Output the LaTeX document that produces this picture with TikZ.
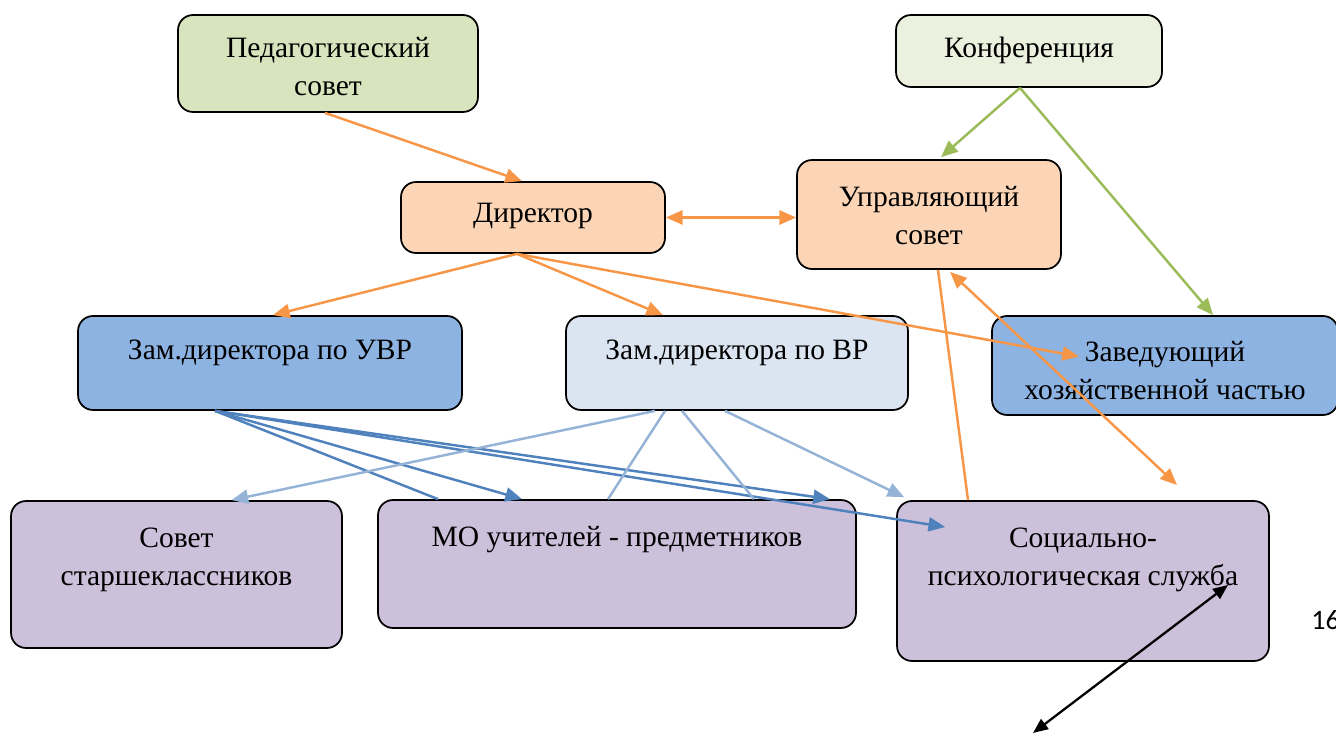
\documentclass[tikz,border=0pt]{standalone}
\usepackage{fontspec}
\setmainfont{Liberation Serif}
\newfontfamily\calib{Carlito}
\usetikzlibrary{arrows.meta,calc}
\definecolor{cOr}{HTML}{F79646}
\definecolor{cGr}{HTML}{9BBB59}
\definecolor{cBl}{HTML}{4F81BD}
\definecolor{cLb}{HTML}{95B3D7}
\definecolor{fPed}{HTML}{D7E4BD}
\definecolor{fKonf}{HTML}{EBF1DE}
\definecolor{fPeach}{HTML}{FBD5B5}
\definecolor{fBlue}{HTML}{8DB3E2}
\definecolor{fLblue}{HTML}{DBE5F1}
\definecolor{fPurp}{HTML}{CCC0DA}
\begin{document}
\begin{tikzpicture}[x=0.02cm,y=-0.02cm,
  box/.style={draw=black, line width=1pt, rounded corners=0.3cm, inner sep=0pt},
  lbl/.style={font=\fontsize{16.8}{22}\selectfont, align=center, inner sep=0pt},
  tip/.style={-{Triangle[length=9.5pt,width=8pt]}},
  dtip/.style={{Triangle[length=9.5pt,width=8pt]}-{Triangle[length=9.5pt,width=8pt]}},
  con/.style={line width=1.4pt}
]
\useasboundingbox (0,0) rectangle (1336,733);

% boxes
\node[box, fill=fPed, minimum width=6cm, minimum height=1.94cm] (ped) at (328,63.5) {};
\node[box, fill=fKonf, minimum width=5.32cm, minimum height=1.44cm] (konf) at (1029,51) {};
\node[box, fill=fPeach, minimum width=5.28cm, minimum height=1.42cm] (dir) at (533,217.5) {};
\node[box, fill=fPeach, minimum width=5.28cm, minimum height=2.18cm] (upr) at (929,214.5) {};
\node[box, fill=fBlue, minimum width=7.68cm, minimum height=1.88cm] (zuvr) at (270,363) {};
\node[box, fill=fLblue, minimum width=6.84cm, minimum height=1.88cm] (zvr) at (737,363) {};
\node[box, fill=fBlue, minimum width=6.92cm, minimum height=1.98cm] (zav) at (1165,365.5) {};
\node[box, fill=fPurp, minimum width=6.62cm, minimum height=2.94cm] (sov) at (176.5,574.5) {};
\node[box, fill=fPurp, minimum width=9.56cm, minimum height=2.56cm] (mo) at (617,564) {};
\node[box, fill=fPurp, minimum width=7.44cm, minimum height=3.2cm] (soc) at (1083,581) {};

% texts
\node[lbl] (tped) at ($(ped.center)+(0,3)$) {Педагогический\\совет};
\node[lbl] (tkonf) at ($(konf.center)+(0,-1)$) {Конференция};
\node[lbl] (tdir) at ($(dir.center)+(0,-2)$) {Директор};
\node[lbl] (tupr) at ($(upr.center)+(0,1)$) {Управляющий\\совет};
\node[lbl] (tzuvr) at ($(zuvr.center)+(0,-10)$) {Зам.директора по УВР};
\node[lbl] (tzvr) at ($(zvr.center)+(0,-10)$) {Зам.директора по ВР};
\node[lbl] (tzav) at ($(zav.center)+(0,5)$) {Заведующий\\хозяйственной частью};
\node[lbl] (tsov) at ($(sov.center)+(0,-14.5)$) {Совет\\старшеклассников};
\node[lbl] (tmo) at ($(mo.center)+(0,-24)$) {МО учителей - предметников};
\node[lbl] (tsoc) at ($(soc.center)+(0,-21)$) {Социально-\\психологическая служба};
\node[anchor=west, inner sep=0pt, font=\calib\fontsize{16}{19}\selectfont] (pg) at (1311,620) {16};

% free ends
\coordinate (orEnd) at (1177,485);
\coordinate (bkA) at (1228,585);
\coordinate (bkB) at (1033,733);

% orange connectors
\draw[con, cOr, tip] ($(ped.south)+(-3,0)$) -- ($(dir.north)+(-11,0)$);
\draw[con, cOr, dtip] (dir.east) -- (dir.east -| upr.west);
\draw[con, cOr, tip] ($(dir.south)+(-16,0)$) -- ($(zuvr.north)+(3,0)$);
\draw[con, cOr, tip] ($(dir.south)+(-16,0)$) -- ($(zvr.north)+(-74,0)$);
\draw[con, cOr, tip] ($(dir.south)+(-16,0)$) -- ($(zav.center)+(-86,-9)$);
\draw[con, cOr] ($(upr.south)+(9,0)$) -- ($(soc.north)+(-115,0)$);
\draw[con, cOr, dtip] ($(upr.south)+(21,2)$) -- (orEnd);

% green connectors
\draw[con, cGr, tip] ($(konf.south)+(-9,0)$) -- ($(upr.north)+(12,-2)$);
\draw[con, cGr, tip] ($(konf.south)+(-9,0)$) -- ($(zav.north)+(48,0)$);

% dark blue connectors
\draw[con, cBl] ($(zuvr.south)+(-55,0)$) -- ($(mo.north)+(-179,0)$);
\draw[con, cBl, tip] ($(zuvr.south)+(-55,0)$) -- ($(mo.north)+(-95,0)$);
\draw[con, cBl, tip] ($(zuvr.south)+(-55,0)$) -- ($(mo.north)+(213,0)$);
\draw[con, cBl, tip] ($(zuvr.south)+(-55,0)$) -- ($(soc.west)+(49,-54)$);

% light blue connectors
\draw[con, cLb, tip] ($(zvr.south)+(-82,0)$) -- ($(sov.north)+(55,0)$);
\draw[con, cLb] ($(zvr.south)+(-72,0)$) -- ($(mo.north)+(-9,0)$);
\draw[con, cLb] ($(zvr.south)+(-55,0)$) -- ($(mo.north)+(137,0)$);
\draw[con, cLb, tip] ($(zvr.south)+(-12,0)$) -- ($(soc.north west)+(8,-3)$);

% black double arrow
\draw[line width=1.3pt, black, {Triangle[length=8.5pt,width=7pt]}-{Triangle[length=8.5pt,width=7pt]}] (bkA) -- (bkB);
\end{tikzpicture}
\end{document}
